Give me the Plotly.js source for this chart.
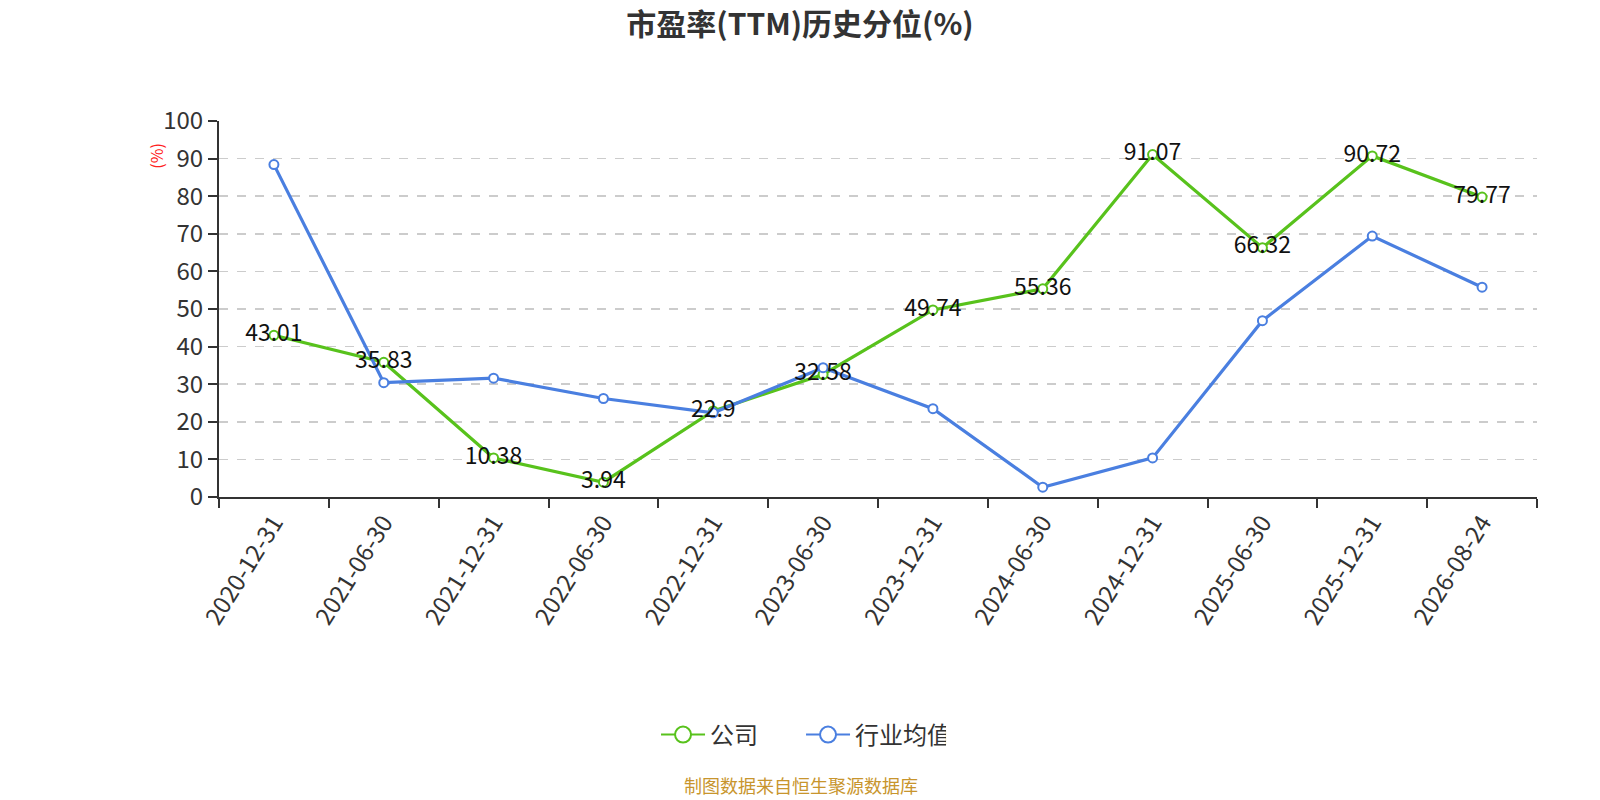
<!DOCTYPE html>
<html>
<head>
<meta charset="utf-8">
<script src="https://cdn.plot.ly/plotly-3.0.1.min.js"></script>
<style>
  html, body { margin: 0; padding: 0; background: #fff; }
  #chart { width: 1600px; height: 800px; }
</style>
</head>
<body>
<div id="chart"></div>
<script>
// 数据
const dates = ['2020-12-31', '2021-06-30', '2021-12-31', '2022-06-30', '2022-12-31', '2023-06-30',
               '2023-12-31', '2024-06-30', '2024-12-31', '2025-06-30', '2025-12-31', '2026-08-24'];
const companyPct = [43.01, 35.83, 10.38, 3.94, 22.9, 32.58, 49.74, 55.36, 91.07, 66.32, 90.72, 79.77];
const industryPct = [88.4, 30.4, 31.6, 26.2, 22.4, 34.4, 23.5, 2.6, 10.4, 46.9, 69.4, 55.8];
const seriesNames = ['公司', '行业均值'];
const chartTitle = '市盈率(TTM)历史分位(%)';
const sourceNote = '制图数据来自恒生聚源数据库';

const FONT = '"Noto Sans CJK SC", "Noto Sans", sans-serif';
const colors = ['#58c21c', '#4a7fe0'];
const seriesData = [companyPct, industryPct];

const traces = [];

// 折线（图例单独画，符号更大）
seriesData.forEach((vals, i) => {
  traces.push({
    x: dates, y: vals, name: seriesNames[i],
    mode: 'lines+markers', type: 'scatter',
    line: { color: colors[i], width: 3.2 },
    marker: { symbol: 'circle', size: 9, color: '#fff', line: { color: colors[i], width: 2 } },
    showlegend: false, hoverinfo: 'none'
  });
});

// 数值标签放在最上层
traces.push({
  x: dates, y: companyPct,
  text: companyPct.map(v => String(v)),
  mode: 'text', type: 'scatter',
  textposition: 'middle center',
  textfont: { family: FONT, size: 23, color: '#111' },
  showlegend: false, hoverinfo: 'none'
});

// 图例项
seriesNames.forEach((name, i) => {
  traces.push({
    x: [null], y: [null], name: name,
    mode: 'lines+markers', type: 'scatter',
    line: { color: colors[i], width: 2 },
    marker: { symbol: 'circle', size: 16, color: '#fff', line: { color: colors[i], width: 2 } },
    hoverinfo: 'none'
  });
});

const layout = {
  width: 1600, height: 800,
  paper_bgcolor: '#fff', plot_bgcolor: '#fff',
  margin: { t: 121, r: 63, b: 303, l: 219 },
  title: {
    text: '<b>' + chartTitle + '</b>',
    font: { family: FONT, size: 30, color: '#333' },
    xref: 'container', x: 0.5, y: 0.969, yanchor: 'middle'
  },
  xaxis: {
    type: 'category',
    range: [-0.5, dates.length - 0.5],
    tickson: 'boundaries',
    ticks: 'outside', ticklen: 9, tickwidth: 2, tickcolor: '#333',
    showline: true, linecolor: '#333', linewidth: 2,
    showgrid: false, zeroline: false,
    tickangle: -58,
    tickfont: { family: FONT, size: 24, color: '#333' }
  },
  yaxis: {
    range: [0, 100], dtick: 10,
    ticks: 'outside', ticklen: 9, tickwidth: 2, tickcolor: '#333',
    showline: true, linecolor: '#333', linewidth: 2,
    showgrid: true, gridcolor: '#cccccc', griddash: 'dash', gridwidth: 1.5,
    zeroline: false,
    tickfont: { family: FONT, size: 24, color: '#333' }
  },
  showlegend: true,
  legend: {
    orientation: 'h',
    x: 0.4416, xanchor: 'center',
    y: -0.633, yanchor: 'middle',
    font: { family: FONT, size: 24, color: '#333' },
    itemwidth: 44,
    entrywidth: 86
  },
  annotations: [
    {
      text: '(%)', xref: 'paper', yref: 'paper',
      x: -0.048, y: 0.907, xanchor: 'center', yanchor: 'middle',
      showarrow: false, textangle: -90,
      font: { family: FONT, size: 16, color: '#ff2020' }
    },
    {
      text: sourceNote, xref: 'paper', yref: 'paper',
      x: 0.4416, y: -0.766, xanchor: 'center', yanchor: 'middle',
      showarrow: false,
      font: { family: FONT, size: 18, color: '#c8952d' }
    }
  ]
};

Plotly.newPlot('chart', traces, layout, { displayModeBar: false, staticPlot: true });
</script>
</body>
</html>
